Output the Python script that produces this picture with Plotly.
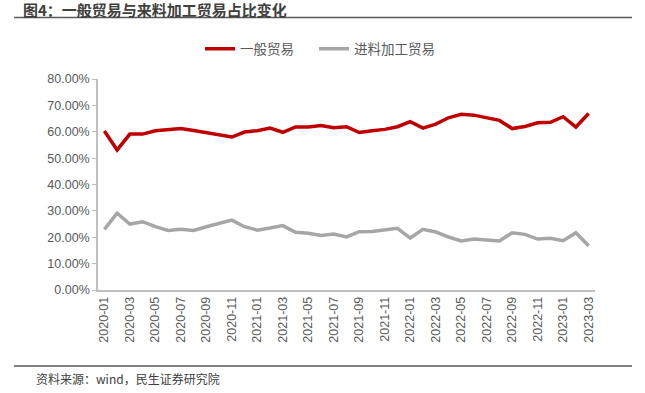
import plotly.graph_objects as go

months = [f"{y}-{m:02d}" for y in (2020, 2021, 2022) for m in range(1, 13)] + ["2023-01", "2023-02", "2023-03"]

general_trade = [60.3, 53.1, 59.1, 59.1, 60.4, 60.9, 61.2, 60.5, 59.7, 59.1,
                 58.0, 59.9, 60.4, 61.4, 59.8, 61.8, 61.8, 62.4, 61.5, 61.9,
                 59.7, 60.4, 60.9, 61.9, 63.8, 61.4, 62.9, 65.3, 66.6, 66.3,
                 65.2, 64.3, 61.2, 62.0, 63.4, 63.6, 65.7, 61.8, 66.9]

processing_trade = [23.0, 29.1, 25.0, 25.9, 24.0, 22.6, 23.0, 22.6, 24.0, 25.3,
                    26.5, 24.0, 22.7, 23.5, 24.4, 21.9, 21.5, 20.7, 21.2, 20.1,
                    22.1, 22.2, 22.9, 23.4, 19.7, 23.0, 22.0, 20.1, 18.6, 19.3,
                    19.0, 18.6, 21.7, 21.1, 19.3, 19.6, 18.7, 21.7, 16.8]

y_ticks = [0, 10, 20, 30, 40, 50, 60, 70, 80]
x_ticks = months[::2]

FONT = "Liberation Sans, Arial, Noto Sans CJK SC, sans-serif"
CJK = "Noto Sans CJK SC, Microsoft YaHei, sans-serif"
GRAY_TXT = "#595959"

L, R, T, B = 98, 50, 79, 103
PW, PH = 645 - L - R, 393 - T - B

def px_x(p):
    return (p - L) / PW

def px_y(p):
    return (393 - B - p) / PH

fig = go.Figure()
fig.add_trace(go.Scatter(x=months, y=general_trade, mode="lines", name="一般贸易",
                         line=dict(color="#C00000", width=3.5), legend="legend"))
fig.add_trace(go.Scatter(x=months, y=processing_trade, mode="lines", name="进料加工贸易",
                         line=dict(color="#A6A6A6", width=3.5), legend="legend2"))

leg_common = dict(orientation="h", yanchor="middle", xanchor="left",
                  font=dict(family=CJK, size=13.5, color=GRAY_TXT), itemwidth=30,
                  bgcolor="rgba(0,0,0,0)")

fig.update_layout(
    width=645, height=393,
    margin=dict(l=L, r=R, t=T, b=B),
    paper_bgcolor="white", plot_bgcolor="white",
    font=dict(family=FONT, color=GRAY_TXT, size=12),
    showlegend=True,
    legend=dict(x=px_x(200), y=px_y(49), **leg_common),
    legend2=dict(x=px_x(314), y=px_y(49), **leg_common),
    xaxis=dict(type="category", tickmode="array", tickvals=x_ticks, ticktext=x_ticks,
               tickangle=-90, tickfont=dict(size=12.5, color=GRAY_TXT, family=FONT),
               showline=True, linecolor="#BFBFBF", linewidth=1.5, showgrid=False,
               ticks="", zeroline=False, range=[-0.5, len(months) - 0.5]),
    yaxis=dict(range=[0, 80], tickvals=y_ticks, ticktext=[f"{v:.2f}%" for v in y_ticks],
               tickfont=dict(size=12.5, color=GRAY_TXT, family=FONT),
               showline=True, linecolor="#BFBFBF", linewidth=1.5, showgrid=False,
               ticks="outside", ticklen=4, tickcolor="#BFBFBF", zeroline=False),
    shapes=[
        dict(type="line", xref="paper", yref="paper", x0=px_x(14), x1=px_x(632),
             y0=px_y(17.5), y1=px_y(17.5), line=dict(color="#595959", width=1.5)),
        dict(type="line", xref="paper", yref="paper", x0=px_x(14), x1=px_x(632),
             y0=px_y(366), y1=px_y(366), line=dict(color="#595959", width=1.5)),
    ],
    annotations=[
        dict(text="<b>图4：一般贸易与来料加工贸易占比变化</b>", xref="paper", yref="paper",
             x=px_x(22), y=px_y(9.5), xanchor="left", yanchor="middle", showarrow=False,
             borderpad=0, font=dict(family=CJK, size=15, color="#404040")),
        dict(text="资料来源：wind，民生证券研究院", xref="paper", yref="paper",
             x=px_x(34), y=px_y(378), xanchor="left", yanchor="middle", showarrow=False,
             font=dict(family=CJK, size=12, color="#404040")),
    ],
)

fig.write_html("out.html", config={"displayModeBar": False},
               post_script="document.body.style.margin='0';")
